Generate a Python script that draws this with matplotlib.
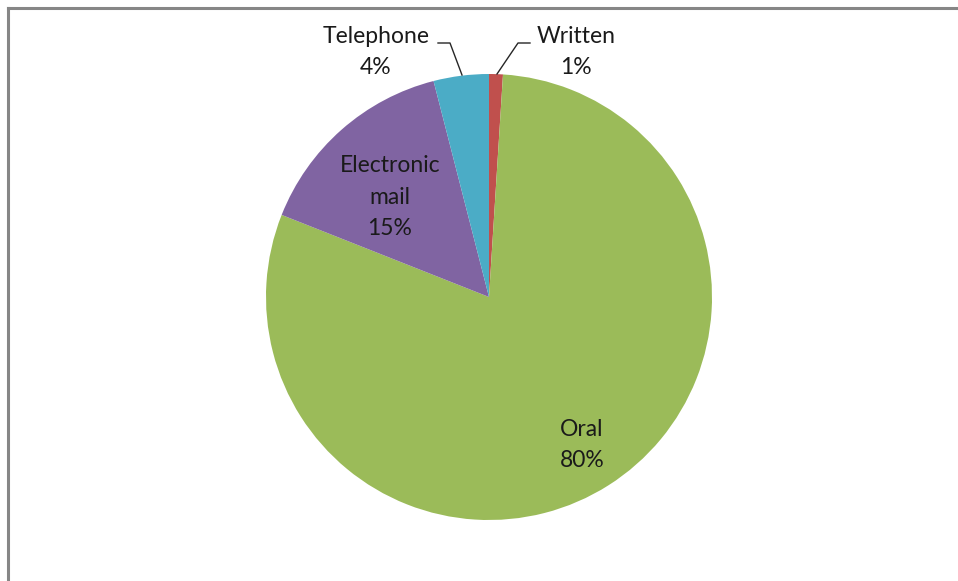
import matplotlib.pyplot as plt
from matplotlib.lines import Line2D

labels = ["Written", "Oral", "Electronic\nmail", "Telephone"]
values = [1, 80, 15, 4]
colors = ["#C0504D", "#9BBB59", "#8064A2", "#4BACC6"]

plt.rcParams['font.family'] = ['Lato', 'DejaVu Sans']

fig = plt.figure(figsize=(9.58, 5.81), dpi=100)

# chart frame (cropped at right and bottom)
fig.add_artist(Line2D([8 / 958, 8 / 958], [0, 1 - 8 / 581], color="#868686", lw=2.2))
fig.add_artist(Line2D([8 / 958, 1], [1 - 8 / 581, 1 - 8 / 581], color="#868686", lw=2.2))

cx, cy, r = 489, 297, 223
ax = fig.add_axes([(cx - r) / 958, (581 - cy - r) / 581, 2 * r / 958, 2 * r / 581])
ax.pie(values, colors=colors, startangle=90, counterclock=False,
       wedgeprops=dict(linewidth=0))
ax.set_aspect("equal")
ax.set_xlim(-1, 1)
ax.set_ylim(-1, 1)
ax.axis("off")


def p(px, py):
    return (px - cx) / r, (cy - py) / r


text_pos = {
    "Written": p(576, 52),
    "Oral": p(582, 445),
    "Electronic\nmail": p(390, 197),
    "Telephone": p(376, 52),
}
for lab, v in zip(labels, values):
    x, y = text_pos[lab]
    ax.text(x, y, f"{lab}\n{v}%", ha="center", va="center", fontsize=16.5,
            color="#1a1a1a", linespacing=1.6, clip_on=False)

# leader lines
for pts in ([(438, 43), (450, 43), (462, 75)], [(497, 74), (518, 43), (530, 43)]):
    xs, ys = zip(*[p(a, b) for a, b in pts])
    ax.plot(xs, ys, color="#262626", lw=1.0, clip_on=False)

fig.savefig("out.png", dpi=100)
